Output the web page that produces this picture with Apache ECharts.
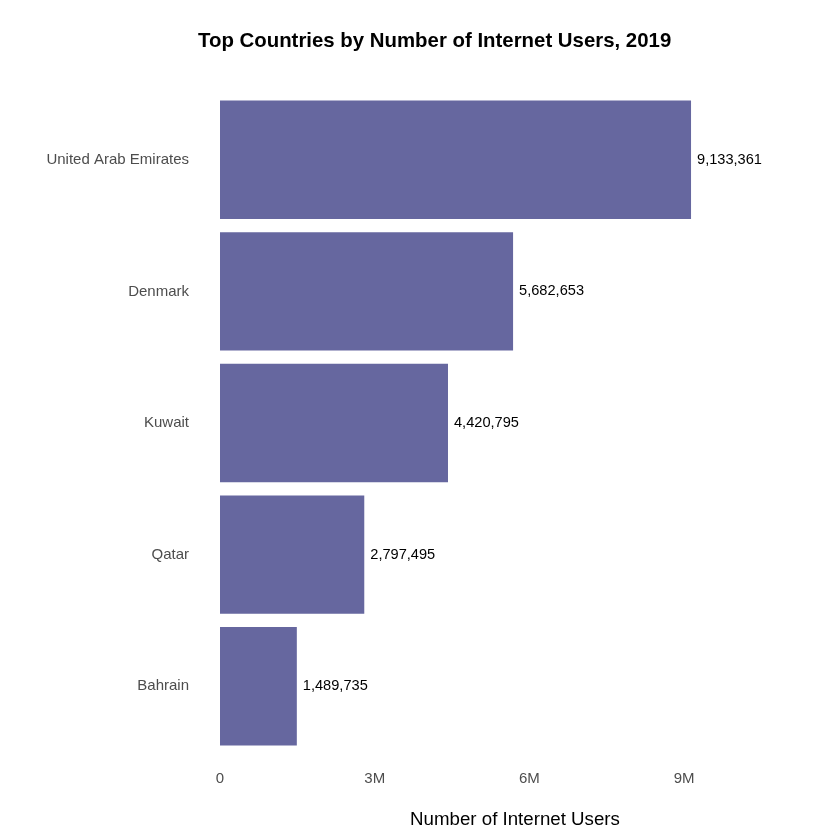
<!DOCTYPE html>
<html>
<head>
<meta charset="utf-8">
<script src="https://cdn.jsdelivr.net/npm/echarts@6/dist/echarts.min.js"></script>
<style>html,body{margin:0;padding:0;background:#fff;}#c{width:840px;height:840px;}</style>
</head>
<body>
<div id="c"></div>
<script>
const countries = ['Bahrain', 'Qatar', 'Kuwait', 'Denmark', 'United Arab Emirates'];
const users = [1489735, 2797495, 4420795, 5682653, 9133361];
const tickValues = [0, 3000000, 6000000, 9000000];
const tickLabels = ['0', '3M', '6M', '9M'];

const chart = echarts.init(document.getElementById('c'));
chart.setOption({
  backgroundColor: '#ffffff',
  animation: false,
  title: {
    text: 'Top Countries by Number of Internet Users, 2019',
    left: 198, top: 31, padding: 0,
    textStyle: { fontFamily: 'Liberation Sans', fontWeight: 'bold', fontSize: 20.4, color: '#000' }
  },
  grid: { left: 220, right: 30, top: 94, bottom: 88, containLabel: false },
  xAxis: {
    type: 'value', min: 0, max: 11440000, interval: 3000000,
    name: 'Number of Internet Users', nameLocation: 'middle', nameGap: 58,
    nameTextStyle: { fontFamily: 'Liberation Sans', fontSize: 18.7, color: '#000' },
    axisLine: { show: false }, axisTick: { show: false }, splitLine: { show: false },
    axisLabel: {
      margin: 19, showMaxLabel: false,
      fontFamily: 'Liberation Sans', fontSize: 15, color: '#4d4d4d',
      formatter: function (v) { const i = tickValues.indexOf(v); return i >= 0 ? tickLabels[i] : ''; }
    }
  },
  yAxis: {
    type: 'category', data: countries,
    axisLine: { show: false }, axisTick: { show: false }, splitLine: { show: false },
    axisLabel: { margin: 31, padding: [3, 0, 0, 0], fontFamily: 'Liberation Sans', fontSize: 15, color: '#4d4d4d' }
  },
  series: [{
    type: 'bar', data: users, barCategoryGap: '10%',
    itemStyle: { color: '#66679f' },
    label: {
      show: true, position: 'right', distance: 6, padding: [3, 0, 0, 0],
      fontFamily: 'Liberation Sans', fontSize: 14.6, color: '#000',
      formatter: function (p) { return p.value.toLocaleString('en-US'); }
    }
  }]
});
</script>
</body>
</html>
